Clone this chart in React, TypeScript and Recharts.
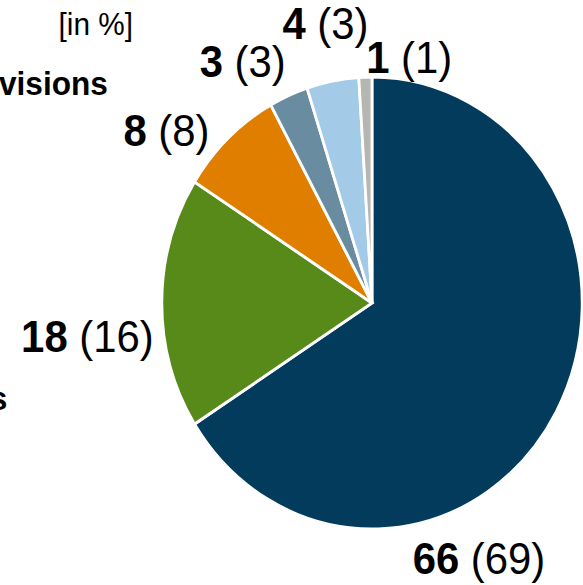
import React from 'react';
import { PieChart, Pie, Cell } from 'recharts';

// values: current share, previous year in brackets
const segments = ['Segment A', 'Segment B', 'Segment C', 'Segment D', 'Segment E', 'Segment F'];
const current = [66, 18, 8, 3, 4, 1];
const previous = [69, 16, 8, 3, 3, 1];

const colors = ['#033B5C', '#578A18', '#E07E00', '#6A8CA0', '#A3CBE8', '#B5B6B1'];

// label anchor (centre of text, baseline) relative to the pie centre, unscaled px
const labelOffsets: [number, number][] = [
  [115, 271],
  [-306, 49],
  [-221, -157],
  [-139, -226],
  [-50, -264],
  [40, -230],
];

const data = segments.map((name, i) => ({ name, value: current[i], prev: previous[i] }));

// the reference is squeezed horizontally, so draw wider and scale down
const SX = 0.93;
const W = 627;
const H = 585;
const CX = 400;
const CY = 303;
const FONT = '"Liberation Sans", Arial, sans-serif';

const renderLabel = (props: any) => {
  const { index } = props;
  const [dx, dy] = labelOffsets[index];
  return (
    <text
      key={`lbl-${index}`}
      x={CX + dx}
      y={CY + dy}
      textAnchor="middle"
      fontFamily={FONT}
      fontSize={45}
      fill="#000"
    >
      <tspan fontWeight="bold">{current[index]}</tspan>
      <tspan> ({previous[index]})</tspan>
    </text>
  );
};

const App: React.FC = () => {
  return (
    <div
      style={{
        position: 'absolute',
        left: 0,
        top: 0,
        width: W,
        height: H,
        transform: `scaleX(${SX})`,
        transformOrigin: '0 0',
        background: '#fff',
      }}
    >
      <PieChart width={W} height={H} margin={{ top: 0, right: 0, bottom: 0, left: 0 }}>
        <Pie
          data={data}
          dataKey="value"
          cx={CX}
          cy={CY}
          outerRadius={226}
          startAngle={90}
          endAngle={-270}
          stroke="#fff"
          strokeWidth={3}
          label={renderLabel}
          labelLine={false}
          isAnimationActive={false}
        >
          {data.map((d, i) => (
            <Cell key={d.name} fill={colors[i]} />
          ))}
        </Pie>
      </PieChart>
      <svg
        width={W}
        height={H}
        style={{ position: 'absolute', left: 0, top: 0, pointerEvents: 'none' }}
      >
        <text x={103} y={35} textAnchor="middle" fontFamily={FONT} fontSize={32} fill="#000">
          [in %]
        </text>
        <text x={116} y={95} textAnchor="end" fontFamily={FONT} fontSize={34} fontWeight="bold" fill="#000">
          visions
        </text>
        <text x={8} y={410} textAnchor="end" fontFamily={FONT} fontSize={34} fontWeight="bold" fill="#000">
          s
        </text>
      </svg>
    </div>
  );
};

export default App;
